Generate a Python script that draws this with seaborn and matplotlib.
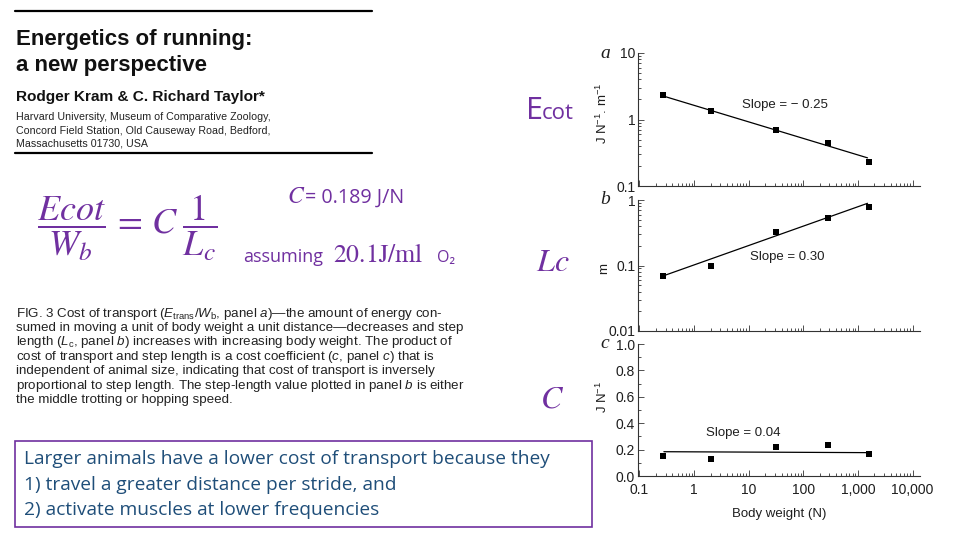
import matplotlib
matplotlib.use("Agg")
import matplotlib.pyplot as plt
import matplotlib.patches as mpatches
from matplotlib.ticker import LogLocator, FuncFormatter, MultipleLocator, NullFormatter
from matplotlib import font_manager
import seaborn as sns
import pandas as pd

# ---------------- data ----------------
body_weight = [0.27, 2.0, 32, 280, 1600]          # N
cost_transport = [2.35, 1.34, 0.69, 0.45, 0.228]  # J N-1 m-1
step_length = [0.0686, 0.10, 0.32, 0.54, 0.77]    # m
cost_coeff = [0.150, 0.127, 0.216, 0.233, 0.165]  # J N-1
fit_x = [0.28, 1500]
fit_cost = [2.24, 0.265]
fit_step = [0.070, 0.89]
fit_coeff = [0.184, 0.177]
slope_labels = ["Slope = \u2212 0.25", "Slope = 0.30", "Slope = 0.04"]
panel_letters = ["a", "b", "c"]
y_labels = [r"J N$^{-1}$. m$^{-1}$", "m", r"J N$^{-1}$"]
x_label = "Body weight (N)"

sns.set_style("ticks")
names = {f.name for f in font_manager.fontManager.ttflist}
NARROW = "Liberation Sans Narrow" if "Liberation Sans Narrow" in names else "Liberation Sans"
plt.rcParams["font.family"] = ["Liberation Sans", "DejaVu Sans"]
plt.rcParams["mathtext.fontset"] = "custom"
plt.rcParams["mathtext.rm"] = "Liberation Sans"
plt.rcParams["mathtext.it"] = "Liberation Sans:italic"
plt.rcParams["mathtext.bf"] = "Liberation Sans:bold"

W, H = 960, 540
fig = plt.figure(figsize=(9.6, 5.4), dpi=100)
fig.patch.set_facecolor("white")


def fx(x):
    return x / W


def fy(y):
    return 1 - y / H


def ftext(x, y, s, **kw):
    return fig.text(fx(x), fy(y), s, transform=fig.transFigure, **kw)


PURPLE = "#7030A0"
INK = "#1e1e1e"

# ---------------- chart panels ----------------
L, R = 638, 920
panels = [(53, 186), (200, 331), (344, 476)]
yvals = [cost_transport, step_length, cost_coeff]
fits = [fit_cost, fit_step, fit_coeff]
slope_pos = [(0.369, 0.609), (0.397, 0.567), (0.240, 0.323)]
ylab_pos = [0.55, 0.48, 0.60]
axes = []
for i, (top, bot) in enumerate(panels):
    ax = fig.add_axes([fx(L), fy(bot), (R - L) / W, (bot - top) / H])
    axes.append(ax)
    df = pd.DataFrame({"x": body_weight, "y": yvals[i]})
    dfit = pd.DataFrame({"x": fit_x, "y": fits[i]})
    sns.lineplot(data=dfit, x="x", y="y", ax=ax, color="black", lw=0.9)
    sns.scatterplot(data=df, x="x", y="y", ax=ax, marker="s", s=14,
                    color="black", edgecolor="black", linewidth=0)
    ax.set_xscale("log")
    ax.set_xlim(0.094, 13700)
    ax.xaxis.set_major_locator(LogLocator(base=10, numticks=10))
    ax.xaxis.set_minor_locator(LogLocator(base=10, subs=range(2, 10), numticks=20))
    ax.xaxis.set_minor_formatter(NullFormatter())
    if i < 2:
        ax.set_yscale("log")
        ax.set_ylim((0.1, 10) if i == 0 else (0.01, 1))
        ax.yaxis.set_major_locator(LogLocator(base=10, numticks=10))
        ax.yaxis.set_minor_locator(LogLocator(base=10, subs=range(2, 10), numticks=20))
        ax.yaxis.set_minor_formatter(NullFormatter())
        ax.yaxis.set_major_formatter(FuncFormatter(lambda v, _: f"{v:g}"))
        ax.tick_params(axis="x", which="both", labelbottom=False)
        ax.set_xlabel("")
    else:
        ax.set_ylim(0, 1.0)
        ax.yaxis.set_major_locator(MultipleLocator(0.2))
        ax.yaxis.set_minor_locator(MultipleLocator(0.1))
        ax.yaxis.set_major_formatter(FuncFormatter(lambda v, _: f"{v:.1f}"))
        ax.xaxis.set_major_formatter(FuncFormatter(lambda v, _: f"{v:,g}"))
        ax.set_xlabel(x_label, fontsize=9.5, color=INK, labelpad=8)
    ax.set_ylabel(y_labels[i], fontsize=9.5, color=INK)
    ax.yaxis.set_label_coords(-0.100, ylab_pos[i])
    for side in ["top", "right"]:
        ax.spines[side].set_visible(False)
    for side in ["left", "bottom"]:
        ax.spines[side].set_linewidth(0.8)
        ax.spines[side].set_color("#333333")
    ax.tick_params(which="both", direction="in", colors="#333333",
                   labelcolor=INK, labelsize=10, width=0.6)
    ax.tick_params(which="major", length=4, pad=2)
    ax.tick_params(which="minor", length=2)
    if i == 2:
        ax.tick_params(axis="x", which="major", pad=5)
    ax.text(slope_pos[i][0], slope_pos[i][1], slope_labels[i], transform=ax.transAxes,
            fontsize=9.5, color=INK, ha="left", va="center")
    ax.set_facecolor("white")

for letter, (top, _) in zip(panel_letters, panels):
    ftext(605, top, letter, fontsize=14, style="italic", family="Liberation Serif",
          color=INK, ha="center", va="center")

# ---------------- paper header ----------------
fig.add_artist(plt.Line2D([fx(15), fx(372)], [fy(11), fy(11)], transform=fig.transFigure,
                          color="black", lw=1.6))
fig.add_artist(plt.Line2D([fx(15), fx(372)], [fy(153), fy(153)], transform=fig.transFigure,
                          color="black", lw=1.6))
ftext(16, 45.5, "Energetics of running:", fontsize=16, weight="bold", family=NARROW,
      color="#111111", va="baseline")
ftext(16, 71.5, "a new perspective", fontsize=16, weight="bold", family=NARROW,
      color="#111111", va="baseline")
ftext(16, 101.5, "Rodger Kram & C. Richard Taylor*", fontsize=11.1, weight="bold",
      family=NARROW, color="#111111", va="baseline")
affil = ["Harvard University, Museum of Comparative Zoology,",
         "Concord Field Station, Old Causeway Road, Bedford,",
         "Massachusetts 01730, USA"]
for k, s in enumerate(affil):
    ftext(16, 120.5 + 13.2 * k, s, fontsize=7.7, color="#222222", va="baseline")

# ---------------- equation ----------------
ftext(37, 228, r"$\dfrac{Ecot}{W_b}\,=\,C\;\dfrac{1}{L_c}$", fontsize=26, color=PURPLE,
      math_fontfamily="stix", va="center", ha="left")
ftext(287, 203, r"$C$", fontsize=17, color=PURPLE, math_fontfamily="stix", va="baseline")
ftext(305, 203, "= 0.189 J/N", fontsize=14.2, color=PURPLE,
      family=["Open Sans", "DejaVu Sans"], va="baseline")
ftext(243, 262, "assuming", fontsize=13, color=PURPLE,
      family=["Open Sans", "DejaVu Sans"], va="baseline")
ftext(333, 262, r"$20.1\mathrm{J/ml}$", fontsize=18.5, color=PURPLE,
      math_fontfamily="stix", va="baseline")
ftext(437, 262, "O\u2082", fontsize=11.5, color=PURPLE,
      family=["Open Sans", "DejaVu Sans"], va="baseline")

# side labels
ftext(526, 119, "E", fontsize=22, color=PURPLE, family=["Open Sans", "DejaVu Sans"],
      va="baseline")
ftext(542, 119, "cot", fontsize=16, color=PURPLE, family=["Open Sans", "DejaVu Sans"],
      va="baseline")
ftext(536, 271, r"$Lc$", fontsize=23, color=PURPLE, math_fontfamily="stix", va="baseline")
ftext(540, 407, r"$C$", fontsize=23, color=PURPLE, math_fontfamily="stix", va="baseline")

# ---------------- caption ----------------
caption = [
    r"FIG. 3 Cost of transport ($E_{\mathrm{trans}}/W_{\mathrm{b}}$, panel $a$)—the amount of energy con-",
    "sumed in moving a unit of body weight a unit distance—decreases and step",
    r"length ($L_{\mathrm{c}}$, panel $b$) increases with increasing body weight. The product of",
    r"cost of transport and step length is a cost coefficient ($c$, panel $c$) that is",
    "independent of animal size, indicating that cost of transport is inversely",
    r"proportional to step length. The step-length value plotted in panel $b$ is either",
    "the middle trotting or hopping speed.",
]
for k, s in enumerate(caption):
    ftext(16, 313.5 + 14.4 * k, s, fontsize=9.6, color="#222222", va="center")

# ---------------- bottom box ----------------
fig.add_artist(mpatches.Rectangle((fx(15), fy(527)), (592 - 15) / W, (527 - 441) / H,
                                  transform=fig.transFigure, fill=False,
                                  edgecolor=PURPLE, lw=1.2))
box_lines = ["Larger animals have a lower cost of transport because they",
             "1) travel a greater distance per stride, and",
             "2) activate muscles at lower frequencies"]
for k, s in enumerate(box_lines):
    ftext(24, 459 + 25.5 * k, s, fontsize=13.8, color="#1F4E79",
          family=["Open Sans", "DejaVu Sans"], va="center")

fig.savefig("out.png", dpi=100, facecolor="white")
